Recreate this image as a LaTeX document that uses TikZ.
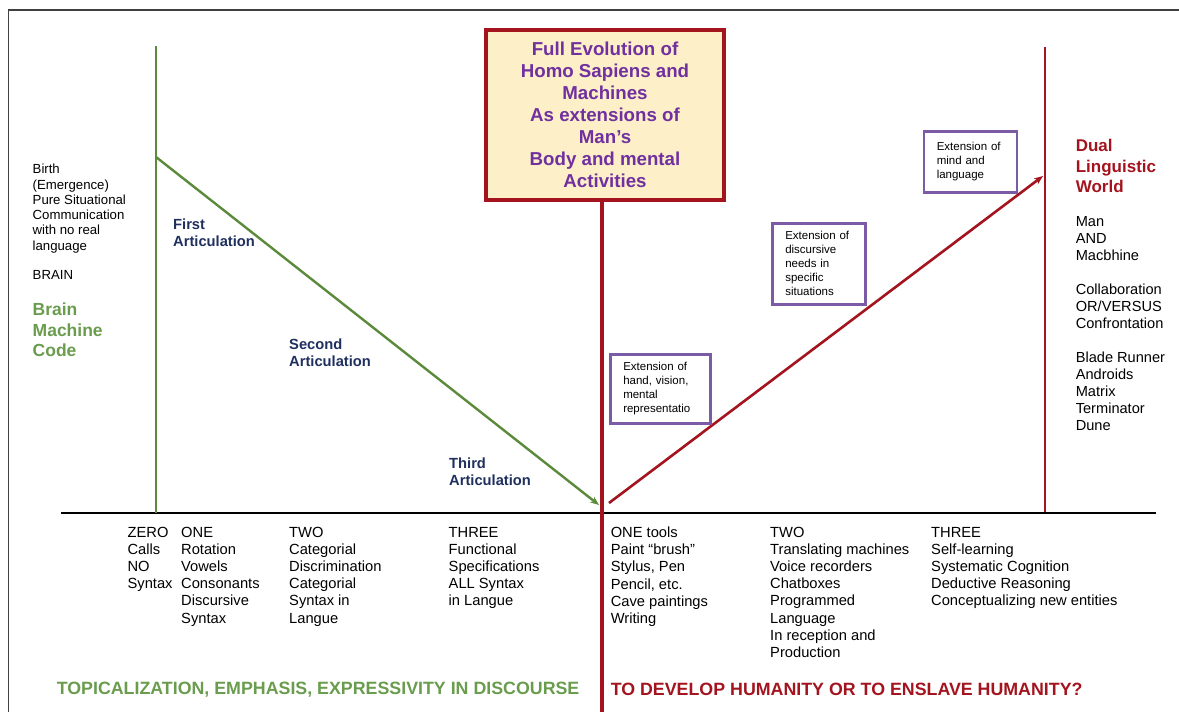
\documentclass[tikz,border=0pt]{standalone}
\usepackage{fontspec}
\setmainfont{Liberation Sans}
\usetikzlibrary{arrows.meta}
\definecolor{lgreen}{HTML}{5B8A3A}
\definecolor{tgreen}{HTML}{6A9C4E}
\definecolor{dred}{HTML}{A3141E}
\definecolor{tpurple}{HTML}{7030A0}
\definecolor{bpurple}{HTML}{7B5AA6}
\definecolor{navy}{HTML}{1F2F5E}
\definecolor{cream}{HTML}{FDEFC8}
\begin{document}
\begin{tikzpicture}[x=1pt, y=-1pt,
        txt/.style = {anchor=north west, align=left, inner sep=0pt, font=\fontsize{13.2}{15.3}\selectfont},
        col/.style = {txt, font=\fontsize{14.7}{17.2}\selectfont},
        art/.style = {txt, text=navy, font=\bfseries\fontsize{14.7}{17}\selectfont},
        ext/.style = {draw=bpurple, line width=2.5pt, anchor=north west, align=left, inner xsep=13pt, inner ysep=0pt, font=\fontsize{11.5}{14}\selectfont},
        gline/.style = {draw=lgreen, line width=2.4pt},
        rline/.style = {draw=dred, line width=2.6pt},
        tip/.style = {-{Stealth[length=9pt, width=7pt]}}]
        \useasboundingbox (0,0) rectangle (1179,712);
        % frame and axis
        \draw[line width=1.3pt, black!75] (8.4,712) -- (8.4,10) -- (1179,10);
        \coordinate (a1) at (61,513);
        \coordinate (a2) at (1156,513);
        \draw[line width=1.2pt] (a1) -- (a2);
        % centre box
        \node[draw=dred, line width=3.5pt, fill=cream, text=tpurple, font=\bfseries\fontsize{18.7}{22}\selectfont, align=center, minimum width=238pt, minimum height=170pt, inner sep=0pt] (title) at (605,115) {Full Evolution of\\Homo Sapiens and\\Machines\\As extensions of\\Man’s\\Body and mental\\Activities};
        % lines
        \coordinate (g1) at (156,46);
        \coordinate (g2) at (156,513);
        \coordinate (g3) at (156,157);
        \coordinate (g4) at (599,505);
        \coordinate (r1) at (602,712);
        \coordinate (r2) at (609,503);
        \coordinate (r3) at (1043,176);
        \coordinate (r4) at (1045,47);
        \coordinate (r5) at (1045,512);
        \draw[gline, line width=2pt] (g1) -- (g2);
        \draw[gline, tip] (g3) -- (g4);
        \draw[rline, line width=3.6pt] (title.south -| r1) -- (r1);
        \draw[rline, tip] (r2) -- (r3);
        \draw[rline, line width=2.2pt] (r4) -- (r5);
        % left side
        \node[txt] (birth) at (32.5,164) {Birth\\(Emergence)\\Pure Situational\\Communication\\with no real\\language};
        \node[txt, anchor=west] (brain) at (32.5,275) {BRAIN};
        \node[txt, text=tgreen, font=\bfseries\fontsize{17.5}{20.8}\selectfont] (bmc) at (32.5,302.5) {Brain\\Machine\\Code};
        \node[art] (art1) at (173,218.7) {First\\Articulation};
        \node[art] (art2) at (289,338.7) {Second\\Articulation};
        \node[art] (art3) at (449,457.9) {Third\\Articulation};
        % extension boxes
        \node[ext, text width=74pt, minimum height=69pt] (ext1) at (609,353) {Extension of\\hand, vision,\\mental\\representatio};
        \node[ext, text width=67pt, minimum height=81pt] (ext2) at (771,222) {Extension of\\discursive\\needs in\\specific\\situations};
        \node[ext, text width=67pt, minimum height=61pt] (ext3) at (922.5,130) {Extension of\\mind and\\language};
        % right side
        \node[txt, text=dred, font=\bfseries\fontsize{17}{20.5}\selectfont] (dual) at (1075.6,139) {Dual\\Linguistic\\World};
        \node[txt, font=\fontsize{14.6}{17}\selectfont] (man) at (1075.6,216.7) {Man\\AND\\Macbhine\\[17pt]Collaboration\\OR/VERSUS\\Confrontation\\[17pt]Blade Runner\\Androids\\Matrix\\Terminator\\Dune};
        % bottom columns
        \node[col] (c0) at (127.4,526.7) {ZERO\\Calls\\NO\\Syntax};
        \node[col] (c1) at (181,526.7) {ONE\\Rotation\\Vowels\\Consonants\\Discursive\\Syntax};
        \node[col] (c2) at (289,526.7) {TWO\\Categorial\\Discrimination\\Categorial\\Syntax in\\Langue};
        \node[col] (c3) at (448.5,526.7) {THREE\\Functional\\Specifications\\ALL Syntax\\in Langue};
        \node[col] (t1) at (610.6,526.7) {ONE tools\\Paint “brush”\\Stylus, Pen\\Pencil, etc.\\Cave paintings\\Writing};
        \node[col] (t2) at (770,526.7) {TWO\\Translating machines\\Voice recorders\\Chatboxes\\Programmed\\Language\\In reception and\\Production};
        \node[col] (t3) at (931,526.7) {THREE\\Self-learning\\Systematic Cognition\\Deductive Reasoning\\Conceptualizing new entities};
        % banners
        \node[anchor=base west, inner sep=0pt, text=tgreen, font=\bfseries\fontsize{17.8}{20}\selectfont] (topic) at (56.6,694.8) {TOPICALIZATION, EMPHASIS, EXPRESSIVITY IN DISCOURSE};
        \node[anchor=base west, inner sep=0pt, text=dred, font=\bfseries\fontsize{17.8}{20}\selectfont] (human) at (610.6,695) {TO DEVELOP HUMANITY OR TO ENSLAVE HUMANITY?};
    \end{tikzpicture}
\end{document}
